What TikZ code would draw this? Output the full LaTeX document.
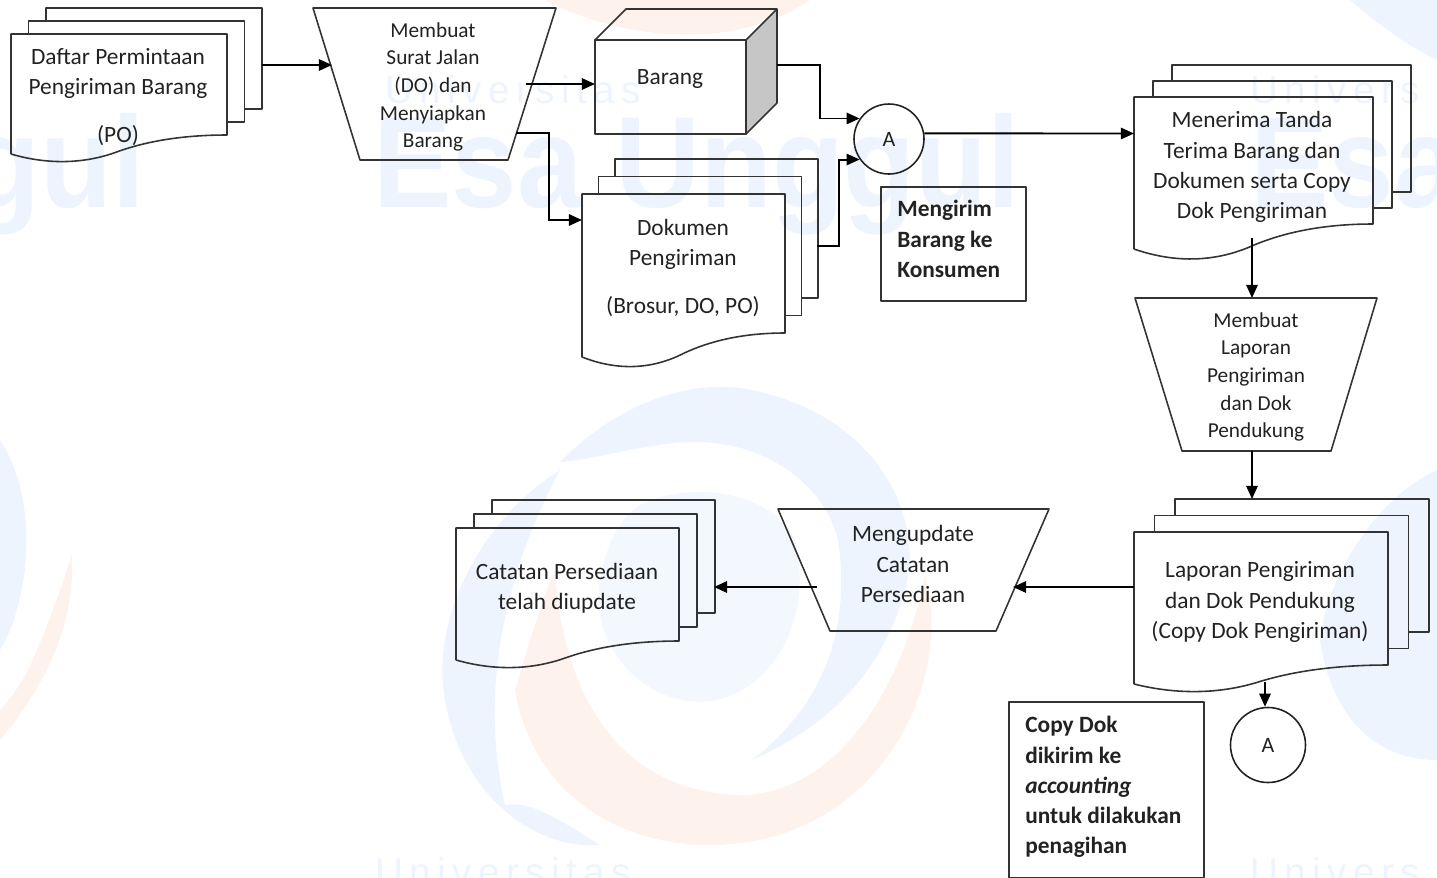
\documentclass[tikz,border=0pt]{standalone}
\usepackage{fontspec}
\setmainfont{Carlito}
\newfontfamily\markfont{Liberation Sans}
\usetikzlibrary{arrows.meta}
\definecolor{markblue}{HTML}{EDF4FD}
\definecolor{markpale}{HTML}{F3F7FE}
\definecolor{markorange}{HTML}{FDF3EC}
\definecolor{inkline}{HTML}{333333}
\definecolor{inktext}{HTML}{222222}
\tikzset{
    outline/.style={draw=inkline,line width=0.9pt,line join=round},
    flow/.style={black,line width=1.1pt,-{Triangle[length=7.5pt,width=6.5pt]}},
    doctext/.style={inktext,align=center,font=\fontsize{13.3}{17.2}\selectfont},
    traptext/.style={inktext,align=center,font=\fontsize{12.1}{15.7}\selectfont},
    notebox/.style={outline,anchor=north west,inner sep=0pt},
    notetext/.style={inktext,anchor=west,align=left,inner sep=0pt,font=\fontsize{13.3}{17.2}\selectfont\bfseries},
    joint/.style={outline,inktext,circle,inner sep=0pt,font=\fontsize{12.5}{14}\selectfont},
    bigmark/.style={markblue,inner sep=0pt,xscale=0.905,font=\markfont\bfseries\fontsize{74}{74}\selectfont},
    thinmark/.style={markblue,anchor=base west,inner sep=0pt,font=\markfont\fontsize{22}{22}\selectfont}
}
% #1 left, #2 top, #3 right, #4 bottom left, #5 bottom right, #6 #7 sheet offset
\newcommand{\stackdoc}[7]{
        \draw[outline] (#1,#4)--(#1,#2)--(#3,#2)--(#3,#5)
            .. controls ({#1+0.82*(#3-#1)},#5) and ({#1+0.65*(#3-#1)},{#4-0.75*(#4-#5)}) .. ({#1+0.5*(#3-#1)},{#4-0.15*(#4-#5)})
            .. controls ({#1+0.35*(#3-#1)},{#4+0.5*(#4-#5)}) and ({#1+0.18*(#3-#1)},{#4+0.6*(#4-#5)}) .. (#1,#4);
        \draw[outline] ({#1+#6},#2)--({#1+#6},{#2+#7})--({#3+#6},{#2+#7})--({#3+#6},{#5+#7})--(#3,{#5+#7});
        \draw[outline] ({#1+2*#6},{#2+#7})--({#1+2*#6},{#2+2*#7})--({#3+2*#6},{#2+2*#7})--({#3+2*#6},{#5+2*#7})--({#3+#6},{#5+2*#7});
}
\begin{document}
\begin{tikzpicture}[x=0.02cm,y=-0.02cm]
        \useasboundingbox (0,0) rectangle (1437,877);
        \begin{scope}
        \clip (0,0) rectangle (1437,877);
        \fill[markpale] (640,505) .. controls (690,480) and (770,490) .. (795,540) .. controls (815,620) and (770,700) .. (700,702) .. controls (640,700) and (600,650) .. (598,600) .. controls (600,560) and (615,520) .. (640,505) -- cycle;
        \fill[markblue] (560,462) .. controls (620,400) and (700,375) .. (760,392) .. controls (880,420) and (925,520) .. (905,590) .. controls (880,680) and (820,730) .. (752,760) .. controls (830,700) and (850,620) .. (838,540) .. controls (820,470) and (740,430) .. (660,445) .. controls (620,450) and (590,460) .. (560,462) -- cycle;
        \fill[markblue] (560,470) .. controls (480,520) and (430,620) .. (445,700) .. controls (460,790) and (530,850) .. (600,845) .. controls (560,820) and (530,800) .. (505,805) .. controls (490,740) and (480,620) .. (560,470) -- cycle;
        \fill[markorange] (515,690) .. controls (530,640) and (545,590) .. (555,570) .. controls (560,650) and (590,790) .. (740,795) .. controls (830,795) and (900,700) .. (925,575) .. controls (955,680) and (880,850) .. (700,845) .. controls (600,840) and (530,780) .. (515,690) -- cycle;
        \fill[markblue] (0,440) .. controls (40,500) and (30,600) .. (0,650) -- cycle;
        \fill[markorange] (0,740) .. controls (50,680) and (75,620) .. (72,555) .. controls (50,620) and (30,680) .. (0,710) -- cycle;
        \fill[markorange] (545,0) .. controls (600,30) and (720,60) .. (810,0) -- cycle;
        \fill[markblue] (1350,0) .. controls (1385,30) and (1415,50) .. (1437,60) -- (1437,0) -- cycle;
        \fill[markblue] (1320,640) .. controls (1330,560) and (1390,490) .. (1437,470) -- (1437,760) .. controls (1370,760) and (1330,710) .. (1320,640) -- cycle;
        \node[bigmark,anchor=base west] (markEsa) at (373,207) {Esa Unggul};
        \node[bigmark,anchor=base east] (markLeft) at (145,207) {Unggul};
        \node[bigmark,anchor=base west] (markRight) at (1250,207) {Esa};
        \node[thinmark] (markUni) at (385,103) {U\,n\,i\,v\,e\,r\,s\,i\,t\,a\,s};
        \node[thinmark] (markUniR) at (1250,103) {U\,n\,i\,v\,e\,r\,s};
        \node[thinmark] (markUniB) at (375,885) {U\,n\,i\,v\,e\,r\,s\,i\,t\,a\,s};
        \node[thinmark] (markUniC) at (1250,885) {U\,n\,i\,v\,e\,r\,s};
        \end{scope}
        \stackdoc{11}{34}{227}{154}{135}{17.5}{-13}
        \node[doctext] (permintaan) at (118,97) {Daftar Permintaan\\Pengiriman Barang\\[9.6pt](PO)};
        \draw[outline] (313,8)--(556,8)--(508,160)--(360,160)--cycle;
        \node[traptext] (suratJalan) at (433,87) {Membuat\\Surat Jalan\\(DO) dan\\Menyiapkan\\Barang};
        \draw[outline,fill=gray!45] (746,40)--(777,9)--(777,103)--(746,134)--cycle;
        \draw[outline] (595,40)--(626,9)--(777,9);
        \node[outline,rectangle,minimum width=151*0.02cm,minimum height=94*0.02cm,inner sep=0pt] (barangFront) at (670.5,87) {};
        \node[doctext] (barang) at (670,79) {Barang};
        \stackdoc{582}{194}{785}{357}{333}{16.5}{-17.5}
        \node[doctext] (dokumen) at (683,268) {Dokumen\\Pengiriman\\[10pt](Brosur, DO, PO)};
        \node[joint,minimum size=70*0.02cm] (circA) at (889,139) {A};
        \node[notebox,minimum width=145*0.02cm,minimum height=114*0.02cm] (kirim) at (880,186) {};
        \node[notetext] (kirimText) at (897,239) {Mengirim\\Barang ke\\Konsumen};
        \stackdoc{1134}{97}{1373}{249}{224}{19}{-16}
        \node[doctext] (terima) at (1252,167) {Menerima Tanda\\Terima Barang dan\\Dokumen serta Copy\\Dok Pengiriman};
        \draw[outline] (1135,298)--(1377,298)--(1331,451)--(1182,451)--cycle;
        \node[traptext] (laporan) at (1256,377) {Membuat\\Laporan\\Pengiriman\\dan Dok\\Pendukung};
        \stackdoc{1134}{532}{1388}{684}{665}{20.5}{-16.5}
        \node[doctext] (laporanDok) at (1260,602) {Laporan Pengiriman\\dan Dok Pendukung\\(Copy Dok Pengiriman)};
        \draw[outline] (778,509)--(1049,509)--(996,631)--(830,631)--cycle;
        \node[doctext] (update) at (913,564) {Mengupdate\\Catatan\\Persediaan};
        \stackdoc{456}{528}{679}{660}{641}{18}{-14}
        \node[doctext] (catatan) at (567,588) {Catatan Persediaan\\telah diupdate};
        \node[joint,minimum size=75*0.02cm] (circB) at (1268,745) {A};
        \node[notebox,minimum width=195*0.02cm,minimum height=176*0.02cm] (copyDok) at (1008,701) {};
        \node[notetext] (copyText) at (1025,787) {Copy Dok\\dikirim ke\\\textit{accounting}\\untuk dilakukan\\penagihan};
        \coordinate (permintaanOut) at (262,65);
        \coordinate (suratIn) at (332,65);
        \coordinate (suratOutA) at (526,84);
        \coordinate (barangIn) at (595,84);
        \coordinate (suratOutB) at (516,133);
        \coordinate (dokumenIn) at (582,220);
        \coordinate (barangOut) at (777,65);
        \coordinate (dokumenOut) at (817,246);
        \coordinate (terimaIn) at (1134,133.5);
        \coordinate (terimaOut) at (1252,238);
        \coordinate (laporanIn) at (1252,298);
        \coordinate (laporanOut) at (1252,451);
        \coordinate (laporanDokIn) at (1252,499);
        \coordinate (laporanDokOutA) at (1134,587);
        \coordinate (updateIn) at (1013,587);
        \coordinate (updateOut) at (817,587);
        \coordinate (catatanIn) at (714,587);
        \coordinate (laporanDokOutB) at (1265,682);
        \draw[flow] (permintaanOut)--(suratIn);
        \draw[flow] (suratOutA)--(barangIn);
        \draw[flow] (suratOutB)--++(33,0)|-(dokumenIn);
        \draw[flow] (barangOut)--++(43,0)|-(circA.145);
        \draw[flow] (dokumenOut)--++(22,0)|-(circA.215);
        \draw[flow] (circA.9)--(terimaIn);
        \draw[flow] (terimaOut)--(laporanIn);
        \draw[flow] (laporanOut)--(laporanDokIn);
        \draw[flow] (laporanDokOutA)--(updateIn);
        \draw[flow] (updateOut)--(catatanIn);
        \draw[flow] (laporanDokOutB)--(laporanDokOutB|-circB.north);
    \end{tikzpicture}
\end{document}
